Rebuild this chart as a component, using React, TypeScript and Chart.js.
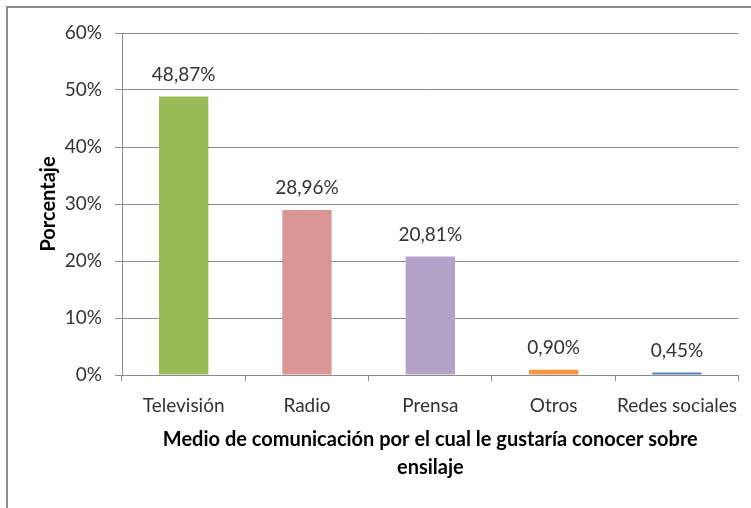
import React, { useEffect, useRef } from "react";
import { Chart, registerables } from "chart.js";

Chart.register(...registerables);

const categories = ["Televisión", "Radio", "Prensa", "Otros", "Redes sociales"];
const values = [48.87, 28.96, 20.81, 0.9, 0.45];
const barColors = ["#9BBB59", "#D99694", "#B3A2C7", "#F79646", "#4F81BD"];
const yTicks = [0, 10, 20, 30, 40, 50, 60];
const yTitle = "Porcentaje";
const xTitle = ["Medio de comunicación por el cual le gustaría conocer sobre", "ensilaje"];

const FONT = "Lato, 'Open Sans', sans-serif";
const TEXT = "#333333";
const GRID = "#8c8c8c";

const W = 751;
const H = 508;

const frame = {
  id: "frame",
  beforeDraw(chart: any) {
    const ctx = chart.ctx;
    ctx.save();
    ctx.fillStyle = "#ffffff";
    ctx.fillRect(0, 0, chart.width, chart.height);
    ctx.strokeStyle = "#8a8a8a";
    ctx.lineWidth = 2;
    ctx.strokeRect(7, 7, chart.width + 20, chart.height + 20);
    ctx.restore();
  },
};

const dataLabels = {
  id: "dataLabels",
  afterDatasetsDraw(chart: any) {
    const ctx = chart.ctx;
    const meta = chart.getDatasetMeta(0);
    ctx.save();
    ctx.font = `19px ${FONT}`;
    ctx.fillStyle = TEXT;
    ctx.textAlign = "center";
    ctx.textBaseline = "middle";
    meta.data.forEach((bar: any, i: number) => {
      const v = values[i];
      const label = v.toFixed(2).replace(".", ",") + "%";
      ctx.fillText(label, bar.x, bar.y - 22);
    });
    ctx.restore();
  },
};

export default function App() {
  const ref = useRef<HTMLCanvasElement | null>(null);

  useEffect(() => {
    if (!ref.current) return;
    const chart = new Chart(ref.current, {
      type: "bar",
      data: {
        labels: categories,
        datasets: [
          {
            data: values,
            backgroundColor: barColors,
            borderWidth: 0,
            categoryPercentage: 1,
            barPercentage: 0.4,
          },
        ],
      },
      options: {
        responsive: false,
        animation: false,
        devicePixelRatio: 1,
        layout: { padding: { top: 33, right: 11, left: 0, bottom: 0 } },
        plugins: {
          legend: { display: false },
          tooltip: { enabled: false },
        },
        scales: {
          x: {
            grid: {
              drawOnChartArea: false,
              drawTicks: true,
              tickLength: 6,
              color: GRID,
              offset: true,
            },
            border: { display: true, color: GRID, width: 1 },
            ticks: {
              color: TEXT,
              font: { family: FONT, size: 19 },
              padding: 13,
              maxRotation: 0,
              autoSkip: false,
            },
            title: {
              display: true,
              text: xTitle,
              color: "#000000",
              font: { family: FONT, size: 20, weight: "bold", lineHeight: "28px" },
              padding: { top: 0, bottom: 26 },
            },
            afterFit(scale: any) {
              scale.height = 133;
            },
          },
          y: {
            min: 0,
            max: 60,
            afterBuildTicks(scale: any) {
              scale.ticks = yTicks.map((v) => ({ value: v }));
            },
            grid: {
              color: GRID,
              tickLength: 7,
              drawTicks: true,
            },
            border: { display: true, color: GRID, width: 1 },
            ticks: {
              color: TEXT,
              font: { family: FONT, size: 19 },
              padding: 13,
              callback: (v: any) => v + "%",
            },
            title: {
              display: true,
              text: yTitle,
              color: "#000000",
              font: { family: FONT, size: 20, weight: "bold" },
              padding: { top: 37, bottom: 0 },
            },
            afterFit(scale: any) {
              scale.width = 122;
            },
          },
        },
      },
      plugins: [frame, dataLabels],
    });
    return () => chart.destroy();
  }, []);

  return (
    <div style={{ position: "absolute", left: 0, top: 0, width: W, height: H }}>
      <canvas ref={ref} width={W} height={H} style={{ display: "block", width: W, height: H }} />
    </div>
  );
}
